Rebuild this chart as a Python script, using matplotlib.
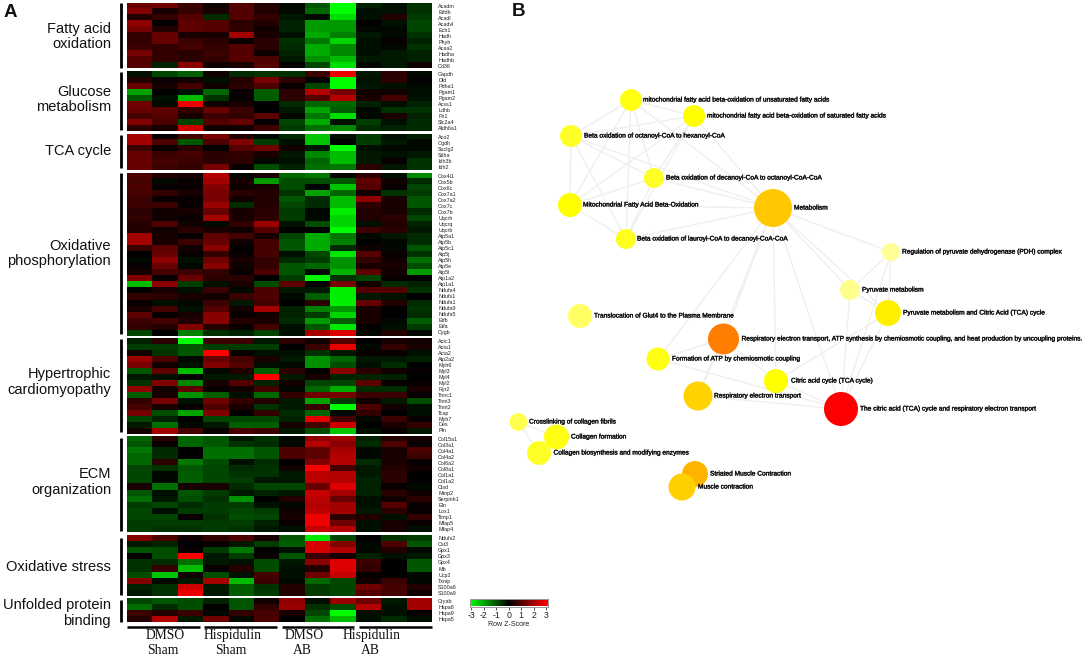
import numpy as np
import matplotlib
matplotlib.use("Agg")
import matplotlib.pyplot as plt
import matplotlib.patheffects as pe
from matplotlib.colors import LinearSegmentedColormap

W, H = 1086, 657
SANS = "Liberation Sans"
SERIF = "Liberation Serif"

# ---------- heatmap data (row z-scores, 12 samples) ----------
fa_genes = ["Acadm","Etfdh","Acadl","Acadvl","Ech1","Hadh","Phyh","Acaa2","Hadha","Hadhb","Cd36"]
fa_vals = [
 [1.2,1.3,0.7,0.2,1.0,0.4,-0.1,-1.0,-3,-0.4,-0.2,-0.6],
 [1.5,0.3,0.6,0.3,1.0,0.4,-0.1,-1.2,-3,-0.2,-0.2,-0.6],
 [0.4,0.6,1.0,-0.5,1.0,0.6,-0.3,-0.1,-2.6,-0.2,0.4,-0.7],
 [1.7,0,1.1,1.0,0.5,0.4,-0.4,-1.8,-1.8,0,-0.2,-0.8],
 [1.4,0.4,1.1,1.0,0.6,0.2,-0.4,-1.8,-1.8,-0.1,-0.1,-0.8],
 [0.6,1.2,0.3,0.3,1.9,0.3,-0.2,-2.0,-1.5,-0.3,-0.1,-0.6],
 [0.6,1.2,0.7,0.5,0.1,0.5,-0.6,-1.4,-2.5,-0.2,0.1,-0.4],
 [0.7,0.6,0.8,0.6,1.0,0.5,-0.5,-2,-1.6,-0.2,-0.1,-0.6],
 [1.4,0.6,0.5,0.7,1.0,0.2,-0.4,-2,-1.6,-0.2,-0.3,-0.4],
 [1,0.6,0.5,0.6,1,0.9,-0.3,-1.7,-2.2,-0.3,-0.3,-0.4],
 [1,-0.4,1.6,0.2,0.3,1,0,-0.8,-2.6,-0.1,-0.3,0.2],
]
glu_genes = ["Gapdh","Dld","Pdha1","Pgam1","Pgam2","Acss1","Ldhb","Fh1","Slc2a4","Aldh6a1"]
glu_vals = [
 [-0.2,-0.8,-1.1,0.2,-0.5,-0.6,-0.6,0.7,2.8,-0.3,0.5,-0.1],
 [0.4,0.1,0.2,-0.2,0.4,1.4,0.5,0,-3,-0.2,0.5,0],
 [1.2,0.3,0.8,0.2,0.5,0.9,0.1,-0.8,-3,-0.3,-0.2,-0.1],
 [-1.9,0,-0.2,-1.2,0.1,-1.1,0.5,2.1,1.4,0.2,0.2,-0.2],
 [-1,-0.2,-2.2,-0.6,0.1,-1.1,0.5,1,2.1,0.3,0.8,-0.2],
 [1.3,-0.1,2.8,0.2,0.3,0,-0.5,-1.2,-1.2,-0.4,-0.2,-0.4],
 [1.2,1.1,0.6,1.2,0.7,0,-0.3,-1.9,-1.1,-0.1,-0.6,-0.6],
 [0.8,1.0,0.3,0.7,0.6,1.1,-0.1,-1.4,-2.6,-0.1,0.3,-0.4],
 [1.5,0.9,-0.8,1,1.2,0.1,-0.8,-2,-0.2,-0.7,-0.2,-0.5],
 [0.5,0.3,2.4,0.2,0.2,0.7,-0.7,-1.3,-1.6,-0.5,-0.4,-0.5],
]
tca_genes = ["Aco2","Ogdh","Suclg2","Sdha","Idh3b","Idh2"]
tca_vals = [
 [1.9,0.1,0.8,1.4,0.4,-0.1,-0.5,-2.3,-0.2,-0.7,-0.2,-0.4],
 [1.9,0.9,-1,0.9,1.5,-0.7,-0.2,-2.3,0,-0.7,-0.3,-0.1],
 [0.7,0.1,0.5,0,1,1.3,0.2,-0.3,-3,-0.2,-0.1,-0.1],
 [1.2,0.7,0.8,0.5,0.6,0.3,-0.3,-1.6,-2.2,-0.3,-0.2,-0.3],
 [1.2,0.8,0.7,0.5,0.5,-0.1,-0.2,-1.2,-2.2,-0.3,0.1,-0.6],
 [1.2,0.7,0.6,1.4,0.1,-0.9,-0.4,-1.3,-1.4,0.5,-0.3,-0.6],
]
ox_genes = ["Cox4i1","Cox5b","Cox6c","Cox7a1","Cox7a2","Cox7c","Cox7b","Uqcrh","Uqcrq","Uqcrb",
            "Atp5a1","Atp5b","Atp5c1","Atp5j","Atp5h","Atp5e","Atp5l","Atp1a2","Atp1a1",
            "Ndufa4","Ndufs1","Ndufa1","Ndufa9","Ndufa5","Etfb","Etfa","Cygb"]
ox_vals = [
 [0.9,0.4,0.3,2.1,-0.1,0.3,-1.2,-1.4,-0.1,0.5,-0.2,-1.6],
 [0.8,-0.1,0.1,1.9,0.3,-1.8,-0.9,-0.9,-1,1.1,0.2,-0.5],
 [0.9,0.1,0.1,1.5,0.2,0.3,-0.9,0,-2.3,1,0.1,-0.8],
 [0.8,0.6,0.3,1.4,0.5,0.4,-0.6,-1.9,-1.2,0.2,-0.6,-0.7],
 [0.7,0.1,0.1,1.4,0.2,0.4,-1,-0.5,-2.2,1.7,0.3,-1],
 [0.7,0.7,0.1,1.8,-0.5,0.4,-0.8,-0.5,-2.2,0.5,0.3,-1],
 [0.5,0.2,0.3,1.2,0.3,0.5,-0.7,-0.1,-2.8,0.4,0.3,-0.5],
 [0.6,0.2,0.1,1.9,0.3,0.5,-0.7,-0.1,-2.5,0.4,0.5,-0.8],
 [0.4,0.9,0.2,-0.1,0.6,1.8,-0.2,-0.9,-2.5,-0.2,0.4,-0.4],
 [0.4,0.2,0.5,0.3,0.2,1,0,0,-3,0.7,0.5,-0.3],
 [1.9,0.3,0.1,1.1,0.8,0.3,-0.8,-2,-1.4,-0.1,-0.3,-0.5],
 [1.9,0.3,0.7,1.2,0.2,0.8,-1,-2,-1.5,0,-0.1,-0.5],
 [0.7,1.1,0.2,1.6,0,0.8,-1,-2,-0.5,0.2,-0.1,-1],
 [0,1.2,0.1,0.6,0.1,0.8,-0.2,-0.8,-2.7,1,0.1,-0.6],
 [-0.1,1.7,-0.2,1.3,0.3,0.6,-0.5,-0.7,-1.7,0.6,0.2,-1.3],
 [0.1,1.2,-0.1,1.6,0.2,0.6,-1,-1.2,-1.7,0.3,0.3,-0.9],
 [0.3,0.8,0.7,0.6,0.1,0.9,-1,-0.1,-2.1,1.1,0.2,-1.8],
 [1.5,0.1,1.2,0.5,0.5,0,-0.7,-2.9,-0.6,-0.8,0.1,0],
 [-2.2,1.6,-0.7,-0.2,0.3,-0.9,1.1,0,1.4,0.2,-0.5,-0.4],
 [0,0.3,-0.2,0.7,-0.1,0.9,-0.3,-0.3,-2.8,1,1,-0.6],
 [0.6,0.5,0.3,0.2,0.7,0.9,-0.1,-1.1,-2.8,-0.3,-0.2,0],
 [0.1,-0.2,-0.1,0.7,-0.3,0.8,0,0.5,-2.8,1.2,0.4,-0.5],
 [0.3,0.8,-0.2,1,0.2,1.9,-0.4,-1.5,-1.8,0.3,0,-0.6],
 [1.1,0.1,0.3,1.6,0.1,0.2,-0.4,-0.7,-2.5,0.3,0,-0.5],
 [0.7,0.8,0.4,1.6,0.4,0.3,-0.5,-1.8,-1.1,0.3,-0.1,-1.1],
 [0.6,0.4,1.5,0.4,0.1,0.8,-0.2,-1,-2.7,0,-0.2,-0.7],
 [-0.8,0,-1.5,-0.6,-0.4,-0.8,-0.2,1.9,2.6,-0.1,0.4,-0.1],
]
hyp_genes = ["Actc1","Acta1","Acta2","Atp2a2","Myh6","Myl3","Myl4","Myl2","Ryr2","Tnnc1","Tnni3","Tnnt2","Tcap","Myh7","Des","Pln"]
hyp_vals = [
 [-0.4,0.5,-3,0.7,0.7,-0.3,0.5,0.2,1,0,0.3,0.2],
 [-0.7,-0.7,-1,-0.7,-0.7,-0.7,0,0.7,2.7,-0.1,0.6,0.3],
 [0.2,-0.6,-1,3,0.1,-0.2,-0.2,-0.6,-0.3,0.1,0.1,-0.2],
 [1.8,0.9,-0.1,1.2,0.8,0.3,-0.3,-1.7,-1.2,-0.3,-0.3,-0.4],
 [1.4,0.2,-0.2,1.5,1,-0.2,-0.1,-1.7,-0.9,-0.2,-0.5,0],
 [-1,1.1,-2.2,-0.1,0.4,-1.1,0.5,0,1.6,0.5,0.2,0.1],
 [-0.3,-0.2,0,-0.3,-0.3,3,-0.3,0.3,-0.4,-0.4,-0.4,0],
 [-0.6,1.5,-1.6,0.3,1,-0.4,0.2,-0.8,-0.8,1.1,0.1,0.1],
 [1.7,0.2,1.1,0.1,0.2,0.8,-0.1,-1.2,-2,-0.5,-0.5,0.3],
 [-1.1,0.3,-1.7,-1.1,-0.2,-1.2,0.6,1.3,1.4,0.7,0.7,0.1],
 [0.6,1.4,-0.2,1.3,0.6,0.4,-0.3,-1.9,-0.7,0.2,-0.3,-0.9],
 [0.8,0.3,0.1,0.9,0.3,-0.6,-0.3,0.7,-3,0.9,0.2,-0.2],
 [1.4,-0.9,-1.9,1.5,0,0.6,-0.5,-1.2,-0.1,0.6,0,-0.2],
 [-0.8,-0.4,0,-0.8,-0.8,-0.8,-0.4,2.7,0.8,-0.1,0.7,0.1],
 [-0.3,-1.3,-0.1,-0.3,-1.1,-1.1,0.3,0.8,2.4,0,0.3,0.6],
 [0.2,1.9,0.8,0.1,0.9,0.7,-0.3,-0.9,-2.3,-0.2,0.1,-0.3],
]
ecm_genes = ["Col15a1","Col3a1","Col4a1","Col4a2","Col6a2","Col8a1","Col1a1","Col1a2","Ctsd","Mmp2","Serpinh1","Eln","Lox1","Timp1","Mfap5","Mfap4"]
ecm_vals = [
 [-1.2,0.5,-1.2,-1,-0.3,-0.6,-0.1,1.7,1.9,-0.4,0.4,0.3],
 [-1,0.1,-1.2,-1,-0.6,-0.5,-0.1,2.1,1.6,-0.5,0.9,0.1],
 [-1.4,-0.5,0,-1.3,-1.3,-1,0.9,1.1,1.9,-0.1,0.3,0.9],
 [-1.2,-0.5,0,-1.3,-1.3,-1,0.9,1.1,2.1,-0.1,0.3,0.7],
 [-1.2,0.5,-1.4,-0.9,-0.2,-0.5,0,1.5,2.1,-0.5,0.3,0.1],
 [-0.8,-0.6,-1,-0.8,-0.5,-0.6,0.2,2.9,0.8,-0.3,0.4,0.2],
 [-0.8,-0.1,-1.1,-0.8,-0.6,-0.6,-0.3,2.2,2.1,-0.3,0.5,0],
 [-0.8,-0.1,-1.1,-0.8,-0.7,-0.3,-0.3,2.2,2.1,-0.4,0.5,0],
 [0.3,-1.3,0.3,0.3,-0.5,-0.8,-0.8,1.2,2.6,-0.4,0.1,-0.1],
 [-1,-0.2,-1,-0.7,-0.3,-0.4,-0.3,2.3,1.9,-0.4,0.5,0.2],
 [-1.3,-0.3,-0.9,-0.6,-1.7,0,0.4,2.2,1.2,-0.2,0.2,0.5],
 [-0.7,-0.8,-0.5,-0.7,-0.7,-0.2,-0.1,2.1,1.9,-0.2,1,0.1],
 [-0.8,-0.2,-0.7,-0.7,-0.8,-0.7,0.2,2.2,1.9,-0.3,0.5,0.1],
 [-0.8,-0.8,0.1,-0.6,-0.9,-0.8,0.3,2.8,0.5,0.4,-0.2,0.6],
 [-0.7,-0.7,-0.7,-0.7,-0.7,-0.4,0.1,2.8,1.3,-0.2,0.3,0.1],
 [-0.7,-0.6,-0.6,-0.7,-0.6,-0.3,-0.2,2.3,2.1,-0.2,0.3,-0.2],
]
os_genes = ["Ndufs2","Cst3","Gpx1","Gpx3","Gpx4","Mb","Ucp2","Txnip","S100a8","S100a9"]
os_vals = [
 [1.5,0.9,0.2,0.6,0.9,0.3,-1,-2.7,-0.8,0,-0.6,-0.7],
 [-0.3,-0.4,0,0.1,-0.3,-0.7,-1.1,2.5,1.5,-0.1,0.9,-1],
 [-1,-0.9,0.1,-0.7,-1.4,0,-0.2,2.5,2.1,-0.1,0.4,-0.1],
 [0,-0.9,3,-0.3,-0.7,0.1,-1,0.7,0.3,-0.4,-0.2,-0.3],
 [-0.6,-0.5,-1.3,-0.3,-0.2,-0.9,-0.3,1.6,2.6,0.7,0,-1],
 [-0.6,0.6,-2.2,0.1,0.4,-0.9,-0.2,0.4,2.6,0.6,0,-1],
 [-0.9,-2.3,0.2,-0.9,-0.2,0.8,-0.2,1.3,2.3,0.1,0,-0.1],
 [1.5,-0.1,-0.3,1.9,-2.2,0.7,-0.1,-1.2,-0.8,0.2,0.7,-0.1],
 [-0.4,-0.6,2.4,-0.3,-1.1,-0.6,0.4,-0.7,-0.8,1.3,0.8,0.4],
 [-0.3,-0.6,2.8,-0.3,-1.1,-0.7,0.4,-0.7,-0.8,1,0.8,0.2],
]
upb_genes = ["Cryab","Hspa8","Hspa9","Hspa5"]
upb_vals = [
 [-0.8,-1,-0.9,-0.4,-1,0.2,1.7,-0.2,1.8,1.3,-0.3,1.9],
 [-1.3,-0.5,-0.9,0,-1,0.6,1.8,-0.6,-0.9,2.1,-0.2,1.9],
 [0.7,0.4,0.7,-0.1,0.6,0.8,0.3,-0.8,-3,-0.2,-0.2,0],
 [0.4,2.1,-0.3,1.3,-0.1,0.9,0,-1.3,-2.2,-0.2,-0.5,-0.2],
]
block_titles = ["Fatty acid\noxidation","Glucose\nmetabolism","TCA cycle","Oxidative\nphosphorylation",
                "Hypertrophic\ncardiomyopathy","ECM\norganization","Oxidative stress","Unfolded protein\nbinding"]
block_genes = [fa_genes,glu_genes,tca_genes,ox_genes,hyp_genes,ecm_genes,os_genes,upb_genes]
block_vals = [fa_vals,glu_vals,tca_vals,ox_vals,hyp_vals,ecm_vals,os_vals,upb_vals]
group_labels = ["DMSO\nSham","Hispidulin\nSham","DMSO\nAB","Hispidulin\nAB"]
z_ticks = [-3,-2,-1,0,1,2,3]
z_tick_labels = ["-3","-2","-1","0","1","2","3"]

# ---------- network data ----------
node_names = ["mitochondrial fatty acid beta-oxidation of unsaturated fatty acids",
 "mitochondrial fatty acid beta-oxidation of saturated fatty acids",
 "Beta oxidation of octanoyl-CoA to hexanoyl-CoA",
 "Beta oxidation of decanoyl-CoA to octanoyl-CoA-CoA",
 "Mitochondrial Fatty Acid Beta-Oxidation","Metabolism",
 "Beta oxidation of lauroyl-CoA to decanoyl-CoA-CoA",
 "Regulation of pyruvate dehydrogenase (PDH) complex","Pyruvate metabolism",
 "Pyruvate metabolism and Citric Acid (TCA) cycle","Translocation of Glut4 to the Plasma Membrane",
 "Respiratory electron transport, ATP synthesis by chemiosmotic coupling, and heat production by uncoupling proteins.",
 "Formation of ATP by chemiosmotic coupling","Citric acid cycle (TCA cycle)","Respiratory electron transport",
 "The citric acid (TCA) cycle and respiratory electron transport","Crosslinking of collagen fibrils",
 "Collagen formation","Collagen biosynthesis and modifying enzymes","Striated Muscle Contraction","Muscle contraction"]
node_x = [631,694,571,654,570,773,626,891,850,888,580,723.5,658,776,698,841,518.5,556.5,539,695,682]
node_y = [100,116,136,178,205,208,239,252,290,313,316,339,359,381,396,409,422,437,453,474,487]
node_r = [11,11,11,10,12,19,10,9,10,13,12,15.5,11.5,12,14.5,17,9,12.5,12,13,13.5]
node_colors = ["#ffff14","#ffff00","#ffff28","#ffff28","#ffff00","#ffc800","#ffff1e","#ffff96","#ffff8c",
 "#fff000","#ffff64","#ff7d00","#ffff14","#ffff00","#ffd200","#ff0000","#ffff50","#ffff14","#ffff28","#ffb400","#ffd000"]
label_x = [643,707,584,666,583,794,637,902,862,903,594,741.5,672,791,714,860,529,571,553.5,710,698]
edges = [(0,1),(0,2),(0,3),(0,4),(0,6),(0,5),(1,2),(1,3),(1,4),(1,6),(1,5),(2,3),(2,4),(2,6),(2,5),
 (3,4),(3,6),(3,5),(4,6),(4,5),(6,5),(5,7),(5,8),(5,9),(5,12),(5,11),(5,14),(5,13),(5,15),
 (7,8),(7,9),(7,15),(8,9),(8,15),(9,13),(9,15),(11,12),(11,14),(11,13),
 (12,15),(13,15),(14,15),(16,17),(16,18),(17,18),(19,20)]

# ---------- layout (pixels) ----------
def rect(x0, y0, x1, y1):
    return [x0/W, 1-y1/H, (x1-x0)/W, (y1-y0)/H]

HX0, HX1 = 127, 432
block_top = [3,71,133.5,172.5,337.5,436,535,598]
block_bot = [68.5,131,170,335.5,433.5,532.5,596,622]
bar_top = [3,72,135,173,339,438,538,600]
bar_bot = [68,130,168,334,432,531,595,622]
title_y = [36.5,99.5,151,253.5,382,482,567,613]
group_x0 = [127,204,282,359]
group_x1 = [200,277,354,432]
group_tx = [165,233,304,372]

cmap = LinearSegmentedColormap.from_list("gbr", ["#00ff00","#000000","#ff0000"])

fig = plt.figure(figsize=(W/100, H/100), dpi=100, facecolor="white")
bg = fig.add_axes([0,0,1,1])
bg.set_xlim(0,W); bg.set_ylim(H,0); bg.axis("off")

# heatmap blocks
for vals, genes, top, bot, bt, bb, title, ty in zip(block_vals, block_genes, block_top, block_bot,
                                                   bar_top, bar_bot, block_titles, title_y):
    ax = fig.add_axes(rect(HX0, top, HX1, bot))
    ax.imshow(np.array(vals), cmap=cmap, vmin=-3, vmax=3, aspect="auto", interpolation="nearest")
    ax.yaxis.tick_right()
    ax.set_yticks(range(len(genes)))
    ax.set_yticklabels(genes, fontsize=3.9, family=SANS, color="#222222")
    ax.set_xticks([])
    ax.tick_params(axis="y", length=0, pad=4.5)
    for s in ax.spines.values():
        s.set_visible(False)
    bg.plot([121,121],[bt,bb], color="black", lw=2.0, solid_capstyle="butt")
    bg.text(111, ty, title, ha="right", va="center", family=SANS, fontsize=10.5,
            linespacing=1.1, color="#111111")

# group bars and labels
for x0, x1, tx, lab in zip(group_x0, group_x1, group_tx, group_labels):
    bg.plot([x0,x1],[627,627], color="black", lw=1.8, solid_capstyle="butt")
    a, b = lab.split("\n")
    bg.text(tx, 635.5, a, ha="center", va="center", family=SERIF, fontsize=9.8, color="#111111")
    bg.text(tx-2, 651, b, ha="center", va="center", family=SERIF, fontsize=9.8, color="#111111")

# panel letters
bg.text(4, 12.5, "A", family=SANS, fontweight="bold", fontsize=13.5, va="center", color="#111111")
bg.text(512, 11, "B", family=SANS, fontweight="bold", fontsize=13.5, va="center", color="#111111")

# colour key
cax = fig.add_axes(rect(470, 599, 547.5, 606.5))
cax.imshow(np.linspace(-3,3,256)[None,:], cmap=cmap, vmin=-3, vmax=3, aspect="auto",
           extent=[-3.1,3.1,0,1], interpolation="bilinear")
cax.set_yticks([])
cax.set_xticks(z_ticks)
cax.set_xticklabels(z_tick_labels, fontsize=6.3, family=SANS, color="#222222")
cax.tick_params(axis="x", length=2.2, width=0.6, pad=1, color="#333333")
cax.set_xlabel("Row Z-Score", fontsize=5.1, family=SANS, labelpad=0.5, color="#222222")
for s in cax.spines.values():
    s.set_color("#999999"); s.set_linewidth(0.7)

# network
for a, b in edges:
    bg.plot([node_x[a],node_x[b]],[node_y[a],node_y[b]], color="#efefef", lw=1.0, zorder=1)
sizes = [(2*r*0.72)**2 for r in node_r]
bg.scatter(node_x, node_y, s=sizes, c=node_colors, linewidths=0, zorder=2)
stroke = [pe.withStroke(linewidth=0.25, foreground="#111111")]
for name, lx, ny in zip(node_names, label_x, node_y):
    bg.text(lx, ny, name, ha="left", va="center", family=SANS, fontsize=4.75, color="#111111",
            zorder=3, path_effects=stroke)

fig.savefig("out.png", dpi=100, facecolor="white")
